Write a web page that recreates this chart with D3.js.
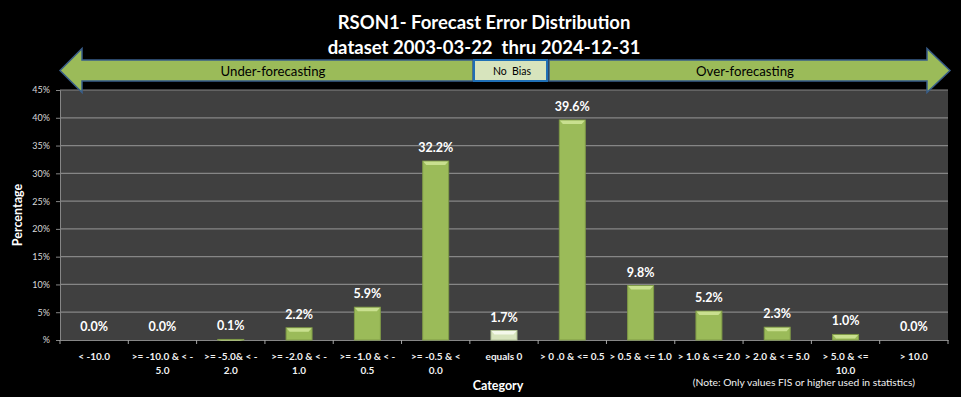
<!DOCTYPE html>
<html>
<head>
<meta charset="utf-8">
<script src="https://cdn.jsdelivr.net/npm/d3@7"></script>
<style>
  body { margin: 0; background: #000; }
  text { font-family: Lato, "Open Sans", sans-serif; white-space: pre; }
</style>
</head>
<body>
<div id="chart"></div>
<script>
// chart data
var categories = [
  ["< -10.0"], [">= -10.0 & < -", "5.0"], [">= -5.0& < -", "2.0"], [">= -2.0 & < -", "1.0"],
  [">= -1.0 & < -", "0.5"], [">= -0.5 & <", "0.0"], ["equals 0"], ["> 0 .0 & <= 0.5"],
  ["> 0.5 & <= 1.0"], ["> 1.0 & <= 2.0"], ["> 2.0 & < = 5.0"], ["> 5.0 & <=", "10.0"], ["> 10.0"]
];
var values = [0.0, 0.0, 0.1, 2.2, 5.9, 32.2, 1.7, 39.6, 9.8, 5.2, 2.3, 1.0, 0.0];
var yTicks = [0, 5, 10, 15, 20, 25, 30, 35, 40, 45];
var titleLines = ["RSON1- Forecast Error Distribution", "dataset 2003-03-22  thru 2024-12-31"];

var svgWidth = 961, svgHeight = 397;
var margin = { top: 90, right: 13, bottom: 57, left: 60 };
var width = svgWidth - margin.left - margin.right;
var height = svgHeight - margin.top - margin.bottom;

var svg = d3.select("#chart").append("svg")
  .attr("width", svgWidth)
  .attr("height", svgHeight)
  .style("display", "block")
  .style("background", "#000");

// title
svg.selectAll(".title")
  .data(titleLines)
  .enter().append("text")
  .attr("x", 484)
  .attr("y", (d, i) => 29 + i * 25)
  .attr("text-anchor", "middle")
  .attr("fill", "#fff")
  .attr("font-size", 18.5)
  .attr("font-weight", "bold")
  .text(d => d);

var chart = svg.append("g")
  .attr("transform", `translate(${margin.left}, ${margin.top})`);

var x = d3.scaleBand().domain(d3.range(categories.length)).range([0, width]).paddingInner(0.62).paddingOuter(0.31);
var xCat = d3.scaleBand().domain(d3.range(categories.length)).range([0, width]);
var y = d3.scaleLinear().domain([0, 45]).range([height, 0]);

// plot background + grid
chart.append("rect")
  .attr("width", width)
  .attr("height", height)
  .attr("fill", "#404040");

chart.selectAll(".grid")
  .data(yTicks.filter(d => d > 0))
  .enter().append("line")
  .attr("x1", 0).attr("x2", width)
  .attr("y1", d => y(d)).attr("y2", d => y(d))
  .attr("stroke", "#868686")
  .attr("stroke-width", 1.2);

// y axis
var leftAxis = d3.axisLeft(y).tickValues(yTicks).tickSize(4).tickPadding(6)
  .tickFormat(d => d === 0 ? "%" : d + "%");
var ya = chart.append("g").call(leftAxis);
ya.select(".domain").attr("stroke", "#868686");
ya.selectAll(".tick line").attr("stroke", "#868686");
ya.selectAll(".tick text").attr("fill", "#d9d9d9").attr("font-size", 9).attr("font-family", "Lato, sans-serif");

// x axis
var bottomAxis = d3.axisBottom(xCat).tickSize(0).tickFormat("");
var xa = chart.append("g").attr("transform", `translate(0, ${height})`).call(bottomAxis);
xa.select(".domain").attr("stroke", "#868686").attr("stroke-width", 1.2);
chart.selectAll(".xtick")
  .data(d3.range(categories.length + 1))
  .enter().append("line")
  .attr("x1", d => d * xCat.step()).attr("x2", d => d * xCat.step())
  .attr("y1", height).attr("y2", height + 4)
  .attr("stroke", "#a6a6a6");

var labels = chart.selectAll(".xlabel")
  .data(categories)
  .enter().append("text")
  .attr("text-anchor", "middle")
  .attr("fill", "#f2f2f2")
  .attr("font-size", 10)
  .attr("font-weight", "bold")
  .attr("transform", (d, i) => `translate(${xCat(i) + xCat.bandwidth() / 2}, ${height + 19.5})`);
labels.selectAll("tspan")
  .data(d => d)
  .enter().append("tspan")
  .attr("x", 0)
  .attr("dy", (d, i) => i === 0 ? 0 : 14)
  .text(d => d);

// bars
var bars = chart.selectAll(".bar")
  .data(values)
  .enter().append("g");

bars.append("rect")
  .attr("x", (d, i) => x(i))
  .attr("y", d => y(d))
  .attr("width", x.bandwidth())
  .attr("height", d => height - y(d))
  .attr("fill", (d, i) => i === 6 ? "#d7e4bd" : "#9bbb59")
  .attr("stroke", (d, i) => i === 6 ? "#b5c59a" : "#7f9a47")
  .attr("stroke-width", 1);

bars.append("path")
  .attr("d", (d, i) => {
    var x0 = x(i) + 0.5, x1 = x(i) + x.bandwidth() - 0.5, t = y(d) + 0.5;
    var h = Math.min(3.5, height - y(d));
    return `M${x0},${t} L${x1},${t} L${x1 - 3},${t + h} L${x0 + 3},${t + h} Z`;
  })
  .attr("fill", (d, i) => i === 6 ? "#f4f8ea" : "#c9e08f");

chart.selectAll(".vlabel")
  .data(values)
  .enter().append("text")
  .attr("x", (d, i) => x(i) + x.bandwidth() / 2)
  .attr("y", d => y(d) - 9)
  .attr("text-anchor", "middle")
  .attr("fill", "#fff")
  .attr("font-size", 12.5)
  .attr("font-weight", "bold")
  .text(d => d.toFixed(1) + "%");

// axis titles
svg.append("text")
  .attr("transform", "translate(22, 215) rotate(-90)")
  .attr("text-anchor", "middle")
  .attr("fill", "#fff")
  .attr("font-size", 12.5)
  .attr("font-weight", "bold")
  .text("Percentage");

svg.append("text")
  .attr("x", 498).attr("y", 390)
  .attr("text-anchor", "middle")
  .attr("fill", "#fff")
  .attr("font-size", 12.5)
  .attr("font-weight", "bold")
  .text("Category");

svg.append("text")
  .attr("x", 915).attr("y", 386)
  .attr("text-anchor", "end")
  .attr("fill", "#f2f2f2")
  .attr("font-size", 10.3)
  .text("(Note: Only values FIS or higher used in statistics)");

// bias arrows
var arrowY = 70.5, bodyH = 10.5, headH = 22;
svg.append("path")
  .attr("d", `M60,${arrowY} L82,${arrowY - headH} L82,${arrowY - bodyH} L473,${arrowY - bodyH} L473,${arrowY + bodyH} L82,${arrowY + bodyH} L82,${arrowY + headH} Z`)
  .attr("fill", "#9bbb59")
  .attr("stroke", "#385d8a")
  .attr("stroke-width", 1.5);

svg.append("path")
  .attr("d", `M950,${arrowY} L927,${arrowY - headH} L927,${arrowY - bodyH} L549,${arrowY - bodyH} L549,${arrowY + bodyH} L927,${arrowY + bodyH} L927,${arrowY + headH} Z`)
  .attr("fill", "#9bbb59")
  .attr("stroke", "#385d8a")
  .attr("stroke-width", 1.5);

svg.append("rect")
  .attr("x", 474).attr("y", 60)
  .attr("width", 73).attr("height", 21)
  .attr("fill", "#d7e4bd")
  .attr("stroke", "#1f6fb5")
  .attr("stroke-width", 2);

svg.append("text").attr("x", 273).attr("y", 75.5).attr("text-anchor", "middle")
  .attr("fill", "#000").attr("font-size", 13.2).text("Under-forecasting");
svg.append("text").attr("x", 745).attr("y", 75.5).attr("text-anchor", "middle")
  .attr("fill", "#000").attr("font-size", 13.2).text("Over-forecasting");
svg.append("text").attr("x", 512).attr("y", 74.5).attr("text-anchor", "middle")
  .attr("fill", "#000").attr("font-size", 10.5).text("No  Bias");
</script>
</body>
</html>
